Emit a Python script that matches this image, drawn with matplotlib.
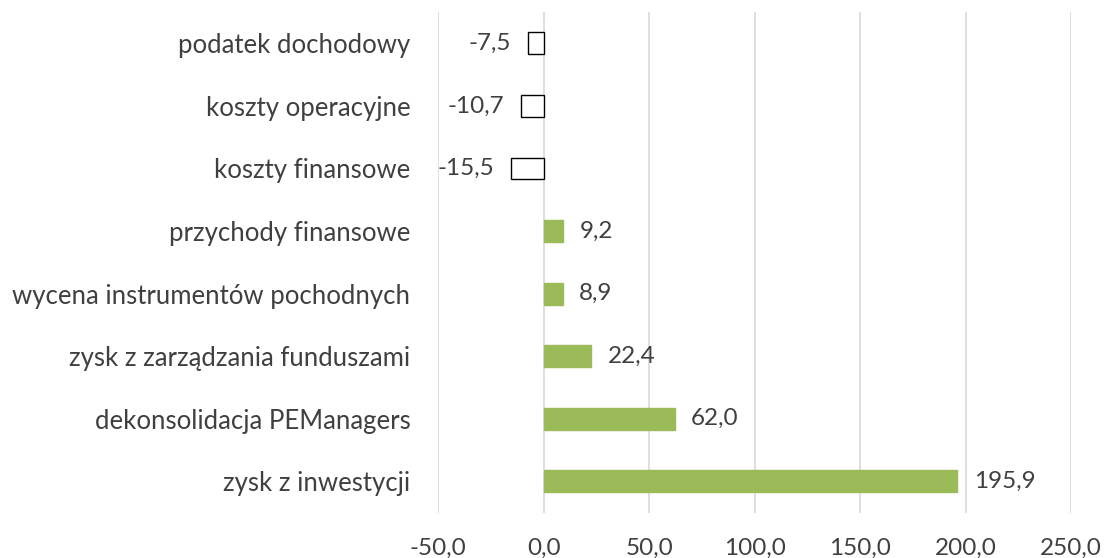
import matplotlib
matplotlib.use("Agg")
import matplotlib.pyplot as plt

# data (bottom to top)
categories = [
    "zysk z inwestycji",
    "dekonsolidacja PEManagers",
    "zysk z zarządzania funduszami",
    "wycena instrumentów pochodnych",
    "przychody finansowe",
    "koszty finansowe",
    "koszty operacyjne",
    "podatek dochodowy",
]
values = [195.9, 62.0, 22.4, 8.9, 9.2, -15.5, -10.7, -7.5]
x_ticks = [-50, 0, 50, 100, 150, 200, 250]

plt.rcParams['font.family'] = ['Lato', 'DejaVu Sans']
text_color = "#404040"

fig = plt.figure(figsize=(11.05, 5.58), dpi=100)
ax = fig.add_axes([0.3966, 0.0812, 0.5728, 0.8973])

pos = list(range(len(categories)))
colors = ["#9BBB59" if v >= 0 else "white" for v in values]
edges = ["#9BBB59" if v >= 0 else "black" for v in values]
ax.barh(pos, values, height=0.35, color=colors, edgecolor=edges, linewidth=1.0, zorder=3)

for p, v in zip(pos, values):
    lbl = f"{v:.1f}".replace(".", ",")
    if v >= 0:
        ax.annotate(lbl, (v, p), xytext=(12, 0), textcoords="offset points",
                    ha="left", va="center", fontsize=17.5, color=text_color)
    else:
        ax.annotate(lbl, (v, p), xytext=(-12, 0), textcoords="offset points",
                    ha="right", va="center", fontsize=17.5, color=text_color)

ax.set_xlim(-50, 250)
ax.set_ylim(-0.5, len(categories) - 0.5)
ax.set_xticks(x_ticks)
ax.set_xticklabels([f"{t:.1f}".replace(".", ",") for t in x_ticks], fontsize=17.5, color=text_color)
ax.set_yticks(pos)
ax.set_yticklabels(categories, fontsize=18.5, color=text_color)
ax.tick_params(axis="both", length=0)
ax.tick_params(axis="y", pad=20)
ax.tick_params(axis="x", pad=18)
ax.grid(axis="x", color="#D9D9D9", linewidth=1.2, zorder=0)
for s in ax.spines.values():
    s.set_visible(False)

fig.savefig("out.png", dpi=100)
